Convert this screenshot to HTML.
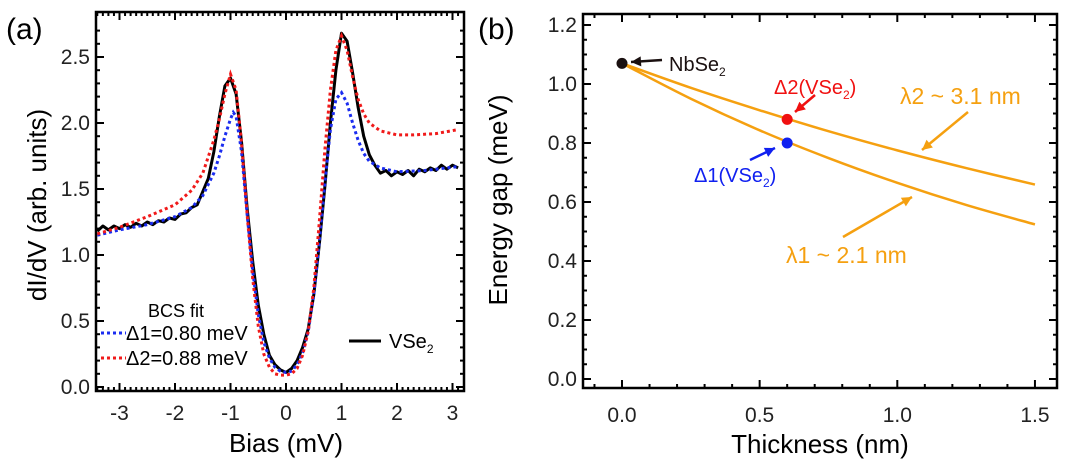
<!DOCTYPE html>
<html><head><meta charset="utf-8"><style>
html,body{margin:0;padding:0;background:#fff;}
svg{display:block;font-family:"Liberation Sans",sans-serif;}
</style></head><body>
<svg id="fig" width="1067" height="462" viewBox="0 0 1067 462" xmlns="http://www.w3.org/2000/svg">
<text x="6" y="39" font-size="30">(a)</text>
<text x="478" y="39" font-size="30">(b)</text>
<g id="pa"></g>
<g id="pb"></g>
</svg>
<script>
// Panel (a) data
const biasBlack=[-3.4,-3.3,-3.2,-3.1,-3.0,-2.9,-2.8,-2.7,-2.6,-2.5,-2.4,-2.3,-2.2,-2.1,-2.0,-1.9,-1.8,-1.7,-1.6,-1.5,-1.4,-1.3,-1.2,-1.1,-1.0,-0.9,-0.8,-0.7,-0.6,-0.5,-0.4,-0.3,-0.2,-0.1,0,0.1,0.2,0.3,0.4,0.5,0.6,0.7,0.8,0.9,1.0,1.1,1.2,1.3,1.4,1.5,1.6,1.7,1.8,1.9,2.0,2.1,2.2,2.3,2.4,2.5,2.6,2.7,2.8,2.9,3.0,3.1];
const vse2=[1.18,1.22,1.19,1.22,1.20,1.23,1.21,1.24,1.22,1.25,1.23,1.26,1.25,1.28,1.27,1.31,1.32,1.36,1.38,1.48,1.58,1.78,2.05,2.28,2.34,2.22,1.85,1.35,0.95,0.62,0.40,0.24,0.17,0.13,0.11,0.14,0.20,0.30,0.44,0.70,1.08,1.52,2.00,2.40,2.68,2.62,2.38,2.12,1.90,1.76,1.68,1.62,1.64,1.60,1.63,1.61,1.64,1.60,1.65,1.63,1.66,1.64,1.68,1.65,1.68,1.66];
const biasBlue=[-3.4,-3.0,-2.5,-2.0,-1.7,-1.5,-1.3,-1.2,-1.1,-1.0,-0.95,-0.9,-0.8,-0.7,-0.6,-0.5,-0.4,-0.3,-0.2,-0.1,0,0.1,0.2,0.3,0.4,0.5,0.6,0.7,0.8,0.9,1.0,1.1,1.2,1.3,1.4,1.5,1.7,2.0,2.5,3.1];
const fitD1=[1.15,1.19,1.23,1.29,1.36,1.45,1.62,1.75,1.90,2.03,2.08,2.05,1.78,1.30,0.88,0.55,0.34,0.22,0.15,0.12,0.11,0.12,0.17,0.26,0.42,0.70,1.10,1.55,1.95,2.18,2.23,2.15,2.00,1.87,1.77,1.71,1.66,1.63,1.64,1.67];
const biasRed=[-3.4,-3.0,-2.5,-2.0,-1.7,-1.5,-1.3,-1.2,-1.1,-1.0,-0.9,-0.8,-0.7,-0.6,-0.5,-0.4,-0.3,-0.2,-0.1,0,0.1,0.2,0.3,0.4,0.5,0.6,0.7,0.8,0.9,1.0,1.1,1.2,1.3,1.4,1.5,1.7,2.0,2.3,2.7,3.1];
const fitD2=[1.16,1.21,1.29,1.38,1.49,1.62,1.87,2.03,2.22,2.37,2.25,1.85,1.30,0.82,0.46,0.25,0.15,0.10,0.09,0.09,0.10,0.14,0.24,0.42,0.75,1.25,1.80,2.25,2.55,2.66,2.55,2.35,2.18,2.07,2.00,1.94,1.91,1.91,1.92,1.95];
const aXTicks=[-3,-2,-1,0,1,2,3];
const aYTicks=[0.0,0.5,1.0,1.5,2.0,2.5];
// Panel (b) data
const thick=[0,0.25,0.5,0.75,1.0,1.25,1.5];
const gapL2=[1.07,0.987,0.911,0.840,0.775,0.715,0.659];
const gapL1=[1.07,0.950,0.843,0.749,0.665,0.590,0.524];
const pointT=[0,0.6,0.6];
const pointE=[1.07,0.88,0.80];
const pointColors=["#1a1010","#f01010","#1020f0"];
const bXTicks=[0.0,0.5,1.0,1.5];
const bYTicks=[0.0,0.2,0.4,0.6,0.8,1.0,1.2];

const NS="http://www.w3.org/2000/svg";
function mk(parent,tag,attrs,text){const e=document.createElementNS(NS,tag);for(const k in attrs)e.setAttribute(k,attrs[k]);if(text!==undefined)e.textContent=text;parent.appendChild(e);return e;}
const pa=document.getElementById('pa'), pb=document.getElementById('pb');

// Panel a axes
const ax=v=>286+v*55.5, ay=v=>387-v*132;
const A={l:96,r:464,t:12,b:391};
let f=mk(pa,'rect',{x:A.l,y:A.t,width:A.r-A.l,height:A.b-A.t,fill:'none',stroke:'#000','stroke-width':2.5});

for(let v=-3.4;v<=3.15;v+=0.1){const x=ax(+v.toFixed(1));const maj=Math.abs(v-Math.round(v))<0.01;const L=maj?8:4;
 if(Math.abs(v*2-Math.round(v*2))<0.01&&!maj)continue;
 mk(pa,'line',{x1:x,x2:x,y1:A.b,y2:A.b-L,stroke:'#000','stroke-width':2});mk(pa,'line',{x1:x,x2:x,y1:A.t,y2:A.t+L,stroke:'#000','stroke-width':2});}
for(let v=-3.5;v<=3.1;v+=0.5){const x=ax(v);if(x<A.l||Number.isInteger(v))continue;mk(pa,'line',{x1:x,x2:x,y1:A.b,y2:A.b-4,stroke:'#000','stroke-width':2});mk(pa,'line',{x1:x,x2:x,y1:A.t,y2:A.t+4,stroke:'#000','stroke-width':2});}
for(let v=0;v<=2.75;v+=0.1){const y=ay(v);const maj=Math.abs(v*2-Math.round(v*2))<0.01;const L=maj?8:4;
 mk(pa,'line',{x1:A.l,x2:A.l+L,y1:y,y2:y,stroke:'#000','stroke-width':2});mk(pa,'line',{x1:A.r,x2:A.r-L,y1:y,y2:y,stroke:'#000','stroke-width':2});}
aXTicks.forEach(v=>{const t=mk(pa,'text',{x:ax(v),y:420,'font-size':21,'text-anchor':'middle',fill:'#222'},String(v));});
aYTicks.forEach(v=>{const t=mk(pa,'text',{x:90,y:ay(v)+7,'font-size':21,'text-anchor':'end',fill:'#222'},v.toFixed(1));});
let t=mk(pa,'text',{x:286,y:452,'font-size':26,'text-anchor':'middle'},'Bias (mV)');
t=mk(pa,'text',{x:0,y:0,'font-size':26,'text-anchor':'middle',transform:'translate(46,205) rotate(-90)'},'dI/dV (arb. units)');

function poly(parent,xs,ys,fx,fy,attrs,name){const p=mk(parent,'polyline',Object.assign({points:xs.map((x,i)=>fx(x).toFixed(1)+','+fy(ys[i]).toFixed(1)).join(' '),fill:'none'},attrs));return p;}
poly(pa,biasBlack,vse2,ax,ay,{stroke:'#000','stroke-width':3,'stroke-linejoin':'round'},'vse2-data-line');
poly(pa,biasBlue,fitD1,ax,ay,{stroke:'#1a2cf0','stroke-width':3,'stroke-dasharray':'3,3'},'bcs-fit-delta1');
poly(pa,biasRed,fitD2,ax,ay,{stroke:'#f01a1a','stroke-width':3,'stroke-dasharray':'3,3'},'bcs-fit-delta2');
// legend
t=mk(pa,'text',{x:148,y:317,'font-size':18},'BCS fit');
let l=mk(pa,'line',{x1:101,x2:126,y1:333,y2:333,stroke:'#1a2cf0','stroke-width':3,'stroke-dasharray':'3,3'});
t=mk(pa,'text',{x:126,y:340,'font-size':20},'Δ1=0.80 meV');
l=mk(pa,'line',{x1:101,x2:126,y1:358,y2:358,stroke:'#f01a1a','stroke-width':3,'stroke-dasharray':'3,3'});
t=mk(pa,'text',{x:126,y:365,'font-size':20},'Δ2=0.88 meV');
l=mk(pa,'line',{x1:349,x2:381,y1:341,y2:341,stroke:'#000','stroke-width':3});
t=mk(pa,'text',{x:389,y:348,'font-size':20},'VSe');
mk(t,'tspan',{dy:5,'font-size':12},'2');

// Panel b axes
const bx=v=>622+v*275.3, by=v=>379-v*295;
const B={l:583,r:1057,t:14,b:388};
f=mk(pb,'rect',{x:B.l,y:B.t,width:B.r-B.l,height:B.b-B.t,fill:'none',stroke:'#000','stroke-width':2.5});

for(let i=-1;i<=15;i++){const v=i/10;const x=bx(v);if(x<B.l||x>B.r)continue;const L=(i%5===0)?8:4;
 mk(pb,'line',{x1:x,x2:x,y1:B.b,y2:B.b-L,stroke:'#000','stroke-width':2});mk(pb,'line',{x1:x,x2:x,y1:B.t,y2:B.t+L,stroke:'#000','stroke-width':2});}
for(let i=0;i<=24;i++){const v=i/20;const y=by(v);const L=(i%4===0)?8:4;
 mk(pb,'line',{x1:B.l,x2:B.l+L,y1:y,y2:y,stroke:'#000','stroke-width':2});mk(pb,'line',{x1:B.r,x2:B.r-L,y1:y,y2:y,stroke:'#000','stroke-width':2});}
bXTicks.forEach(v=>{const t=mk(pb,'text',{x:bx(v),y:422,'font-size':21,'text-anchor':'middle',fill:'#222'},v.toFixed(1));});
bYTicks.forEach(v=>{const t=mk(pb,'text',{x:577,y:by(v)+7,'font-size':21,'text-anchor':'end',fill:'#222'},v.toFixed(1));});
t=mk(pb,'text',{x:820,y:453,'font-size':26,'text-anchor':'middle'},'Thickness (nm)');
t=mk(pb,'text',{x:0,y:0,'font-size':26,'text-anchor':'middle',transform:'translate(507,200) rotate(-90)'},'Energy gap (meV)');

function smooth(xs,ys,fx,fy){const P=xs.map((x,i)=>[fx(x),fy(ys[i])]);let d='M'+P[0][0]+','+P[0][1];
 for(let i=0;i<P.length-1;i++){const p0=P[Math.max(0,i-1)],p1=P[i],p2=P[i+1],p3=P[Math.min(P.length-1,i+2)];
 d+=' C'+(p1[0]+(p2[0]-p0[0])/6)+','+(p1[1]+(p2[1]-p0[1])/6)+' '+(p2[0]-(p3[0]-p1[0])/6)+','+(p2[1]-(p3[1]-p1[1])/6)+' '+p2[0]+','+p2[1];}return d;}
let p=mk(pb,'path',{d:smooth(thick,gapL2,bx,by),fill:'none',stroke:'#f5a010','stroke-width':2.5});
p=mk(pb,'path',{d:smooth(thick,gapL1,bx,by),fill:'none',stroke:'#f5a010','stroke-width':2.5});
const ptNames=['point-nbse2','point-delta2','point-delta1'];
pointT.forEach((v,i)=>{const c=mk(pb,'circle',{cx:bx(v),cy:by(pointE[i]),r:5.5,fill:pointColors[i]});});

function arrow(x1,y1,x2,y2,col,name){const g=mk(pb,'g',{});
 mk(g,'line',{x1:x1,y1:y1,x2:x2,y2:y2,stroke:col,'stroke-width':2.5});const a=Math.atan2(y2-y1,x2-x1),s=10,w=5;
 const bx0=x2-s*Math.cos(a),by0=y2-s*Math.sin(a);
 mk(g,'polygon',{points:x2+','+y2+' '+(bx0+w*Math.sin(a))+','+(by0-w*Math.cos(a))+' '+(bx0-w*Math.sin(a))+','+(by0+w*Math.cos(a)),fill:col});}
arrow(662,60,631,62,'#1a1010','arrow-nbse2');
arrow(815,95,795,112,'#f01010','arrow-delta2');
arrow(750,160,775,148,'#1020f0','arrow-delta1');
arrow(968,112,922,150,'#f5a010','arrow-lambda2');
arrow(843,237,912,197,'#f5a010','arrow-lambda1');
function lab(x,y,txt,sub,after,col,size,name){const t=mk(pb,'text',{x:x,y:y,'font-size':size,fill:col},txt);
 if(sub){mk(t,'tspan',{dy:5,'font-size':12},sub);if(after)mk(t,'tspan',{dy:-5},after);}}
lab(669,71,'NbSe','2','','#1a1010',20,'label-nbse2');
lab(774,94,'Δ2(VSe','2',')','#f01010',20,'label-delta2');
lab(694,182,'Δ1(VSe','2',')','#1020f0',20,'label-delta1');
lab(900,104,'λ2 ~ 3.1 nm','','','#f5a010',23,'label-lambda2');
lab(786,263,'λ1 ~ 2.1 nm','','','#f5a010',23,'label-lambda1');
</script>
</body></html>
